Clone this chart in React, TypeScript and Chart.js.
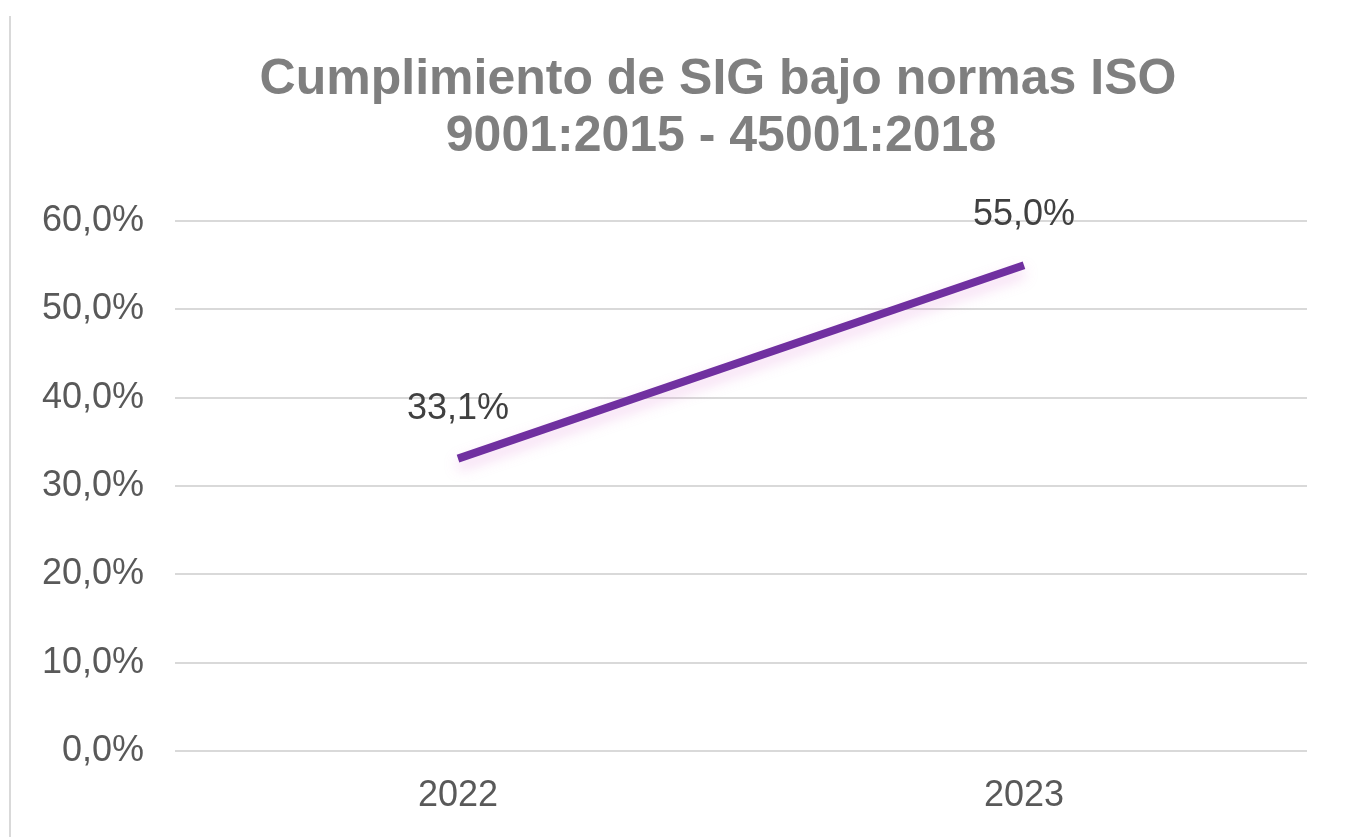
import React, { useEffect, useRef } from "react";
import { Chart, registerables } from "chart.js";

Chart.register(...registerables);

const titleLines = ["Cumplimiento de SIG bajo normas ISO", "9001:2015 - 45001:2018"];
const categories = ["2022", "2023"];
const seriesValues = [33.1, 55.0];
const yTickValues = [0, 10, 20, 30, 40, 50, 60];

const fmt = (v: number) => v.toFixed(1).replace(".", ",") + "%";

const FONT = "'Liberation Sans', Arial, sans-serif";

const decorPlugin = {
  id: "decor",
  beforeDraw(chart: any) {
    const ctx = chart.ctx;
    ctx.save();
    ctx.fillStyle = "#ffffff";
    ctx.fillRect(0, 0, chart.width, chart.height);
    ctx.strokeStyle = "#d9d9d9";
    ctx.lineWidth = 2;
    ctx.beginPath();
    ctx.moveTo(10, 16);
    ctx.lineTo(10, chart.height);
    ctx.stroke();
    ctx.fillStyle = "#7f7f7f";
    ctx.font = `bold 50px ${FONT}`;
    ctx.textAlign = "center";
    ctx.textBaseline = "middle";
    ctx.fillText(titleLines[0], 718, 80);
    ctx.fillText(titleLines[1], 721, 137);
    ctx.restore();
  },
  beforeDatasetDraw(chart: any) {
    const ctx = chart.ctx;
    ctx.save();
    ctx.shadowColor = "rgba(220,120,210,0.35)";
    ctx.shadowBlur = 14;
    ctx.shadowOffsetY = 7;
  },
  afterDatasetDraw(chart: any) {
    chart.ctx.restore();
  },
  afterDatasetsDraw(chart: any) {
    const ctx = chart.ctx;
    const meta = chart.getDatasetMeta(0);
    ctx.save();
    ctx.fillStyle = "#404040";
    ctx.font = `36px ${FONT}`;
    ctx.textAlign = "center";
    ctx.textBaseline = "middle";
    meta.data.forEach((pt: any, i: number) => {
      ctx.fillText(fmt(seriesValues[i]), pt.x, pt.y - 50);
    });
    ctx.restore();
  },
};

export default function App() {
  const ref = useRef<HTMLCanvasElement | null>(null);
  useEffect(() => {
    if (!ref.current) return;
    const chart = new Chart(ref.current, {
      type: "line",
      data: {
        labels: categories,
        datasets: [
          {
            data: seriesValues,
            borderColor: "#7030A0",
            borderWidth: 8,
            borderCapStyle: "butt",
            pointRadius: 0,
            pointHoverRadius: 0,
            fill: false,
            tension: 0,
          },
        ],
      },
      options: {
        animation: false,
        responsive: true,
        maintainAspectRatio: false,
        events: [],
        layout: { padding: { left: 0, right: 38, top: 221, bottom: 0 } },
        plugins: {
          legend: { display: false },
          title: { display: false },
          tooltip: { enabled: false },
        },
        scales: {
          x: {
            offset: true,
            grid: { display: false },
            border: { display: false },
            ticks: {
              color: "#595959",
              font: { family: FONT, size: 36 },
              padding: 15,
              maxRotation: 0,
            },
            afterFit: (s: any) => {
              s.height = 86;
            },
          },
          y: {
            min: 0,
            max: 60,
            afterBuildTicks: (s: any) => {
              s.ticks = yTickValues.map((v) => ({ value: v }));
            },
            grid: { color: "#d9d9d9", lineWidth: 2, drawTicks: false },
            border: { display: false },
            ticks: {
              color: "#595959",
              font: { family: FONT, size: 36 },
              padding: 31,
              callback: (v: any) => fmt(Number(v)),
            },
            afterFit: (s: any) => {
              s.width = 175;
            },
          },
        },
      },
      plugins: [decorPlugin],
    });
    return () => chart.destroy();
  }, []);
  return (
    <div style={{ position: "absolute", left: 0, top: 0, width: 1345, height: 837 }}>
      <canvas ref={ref} />
    </div>
  );
}
